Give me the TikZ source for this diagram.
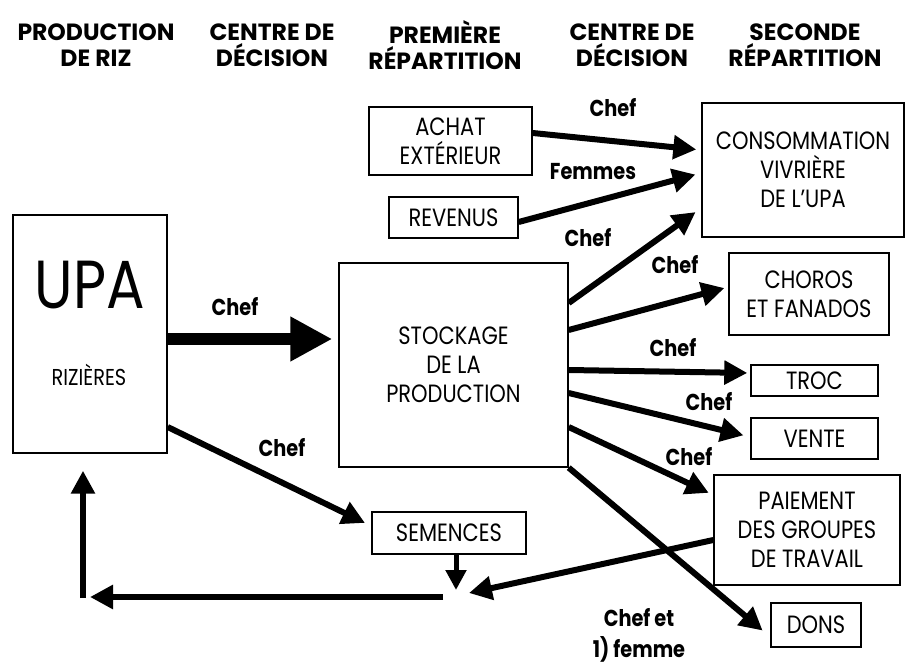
\documentclass[tikz,border=0pt]{standalone}
\usepackage{fontspec}
\setmainfont[FakeStretch=0.84]{Poppins}
\newfontfamily\fonttitre{Poppins}
\usepackage{tikz}
\usetikzlibrary{arrows.meta}

\newcommand{\txtboite}{\fontsize{25}{29}\selectfont}
\newcommand{\txttitre}{\fonttitre\bfseries\fontsize{23.5}{26}\selectfont}
\newcommand{\txtchef}{\bfseries\fontsize{23}{31}\selectfont}

\tikzset{
  boite/.style={draw, line width=1.4pt, align=center, inner sep=0pt, font=\txtboite},
  titre/.style={align=center, font=\txttitre},
  chef/.style={align=center, font=\txtchef},
  fleche/.style={line width=6pt, -{Triangle[length=23pt, width=23pt]}},
  grosse/.style={line width=12pt, -{Triangle[length=42pt, width=42pt]}}
}

\begin{document}
\begin{tikzpicture}[x=1pt, y=-1pt]
    \useasboundingbox (0,0) rectangle (906,666);

    % Column headings
    \node[titre] (tprod) at (96,45) {PRODUCTION\\DE RIZ};
    \node[titre] (tcentreA) at (272,45) {CENTRE DE\\DÉCISION};
    \node[titre] (tprem) at (445,45) {PREMIÈRE\\RÉPARTITION};
    \node[titre] (tcentreB) at (632,45) {CENTRE DE\\DÉCISION};
    \node[titre] (tseconde) at (805,45) {SECONDE\\RÉPARTITION};

    % Production de riz
    \node[boite, minimum width=154pt, minimum height=238pt] (upa) at (90,334) {};
    \node[font=\fontsize{68}{68}\selectfont] (upatxt) at (90,285) {UPA};
    \node[font=\fontsize{23}{24}\selectfont] (riz) at (89,375) {RIZIÈRES};

    % Premiere repartition
    \node[boite, minimum width=163pt, minimum height=68pt] (achat) at (450.5,141) {ACHAT\\EXTÉRIEUR};
    \node[boite, minimum width=129pt, minimum height=41pt] (revenus) at (453.5,217.5) {REVENUS};
    \node[boite, minimum width=229pt, minimum height=204pt] (stock) at (453.5,365) {STOCKAGE\\DE LA\\PRODUCTION};
    \node[boite, minimum width=154pt, minimum height=42pt] (sem) at (449,533) {SEMENCES};

    % Seconde repartition
    \node[boite, minimum width=202pt, minimum height=134pt] (conso) at (803,170) {CONSOMMATION\\VIVRIÈRE\\DE L'UPA};
    \node[boite, minimum width=160pt, minimum height=82pt] (choros) at (809,294) {CHOROS\\ET FANADOS};
    \node[boite, minimum width=127pt, minimum height=31pt] (troc) at (814.5,380.5) {TROC};
    \node[boite, minimum width=127pt, minimum height=41pt] (vente) at (814.5,438.5) {VENTE};
    \node[boite, minimum width=186pt, minimum height=110pt] (paie) at (807,530) {PAIEMENT\\DES GROUPES\\DE TRAVAIL};
    \node[boite, minimum width=90pt, minimum height=44pt] (dons) at (816,625) {DONS};

    % Retour vers les rizieres
    \coordinate (j) at (456,597);
    \coordinate (coin) at (83,597);

    % Labels
    \node[chef] (chef0) at (235,307) {Chef};
    \node[chef] (chef1) at (282,448) {Chef};
    \node[chef] (chef2) at (613,108) {Chef};
    \node[chef] (femmes) at (593,172) {Femmes};
    \node[chef] (chef3) at (588,238) {Chef};
    \node[chef] (chef4) at (675,265) {Chef};
    \node[chef] (chef5) at (673,348) {Chef};
    \node[chef] (chef6) at (709,402) {Chef};
    \node[chef] (chef7) at (689,457) {Chef};
    \node[chef] (chef8) at (639,635) {Chef et\\1) femme};

    % Arrows
    \draw[grosse, shorten >=6pt] ([yshift=-5pt]upa.east) -- ([yshift=26pt]stock.west);
    \draw[fleche, shorten >=7pt] ([yshift=-93pt]upa.east) -- ([yshift=7pt]sem.west);
    \draw[fleche, shorten >=5pt] ([yshift=8pt]achat.east) -- ([yshift=20pt]conso.west);
    \draw[fleche, shorten >=6pt] ([yshift=-4.5pt]revenus.east) -- ([yshift=-3pt]conso.west);
    \draw[fleche, shorten >=7pt] ([yshift=62pt]stock.east) -- ([yshift=-38pt]conso.west);
    \draw[fleche, shorten >=4pt] ([yshift=35pt]stock.east) -- ([yshift=7pt]choros.west);
    \draw[fleche, shorten >=3pt] ([yshift=-5pt]stock.east) -- ([yshift=7.5pt]troc.west);
    \draw[fleche, shorten >=7pt] ([yshift=-28pt]stock.east) -- ([yshift=1.5pt]vente.west);
    \draw[fleche, shorten >=5pt] ([yshift=-62pt]stock.east) -- ([yshift=35pt]paie.west);
    \draw[fleche, shorten >=10pt] (stock.south east) -- ([yshift=-12pt]dons.west);
    \draw[line width=5pt, -{Triangle[length=20pt, width=20pt]}] ([xshift=7pt]sem.south) -- ([yshift=7pt]j);
    \draw[fleche] ([yshift=-10pt]paie.west) -- ([xshift=13pt, yshift=4pt]j);
    \draw[fleche] ([xshift=-13pt]j) -- ([xshift=7pt]coin);
    \draw[fleche, shorten >=17pt] ([yshift=-1pt]coin) -- ([xshift=-7pt]upa.south);
  \end{tikzpicture}
\end{document}
